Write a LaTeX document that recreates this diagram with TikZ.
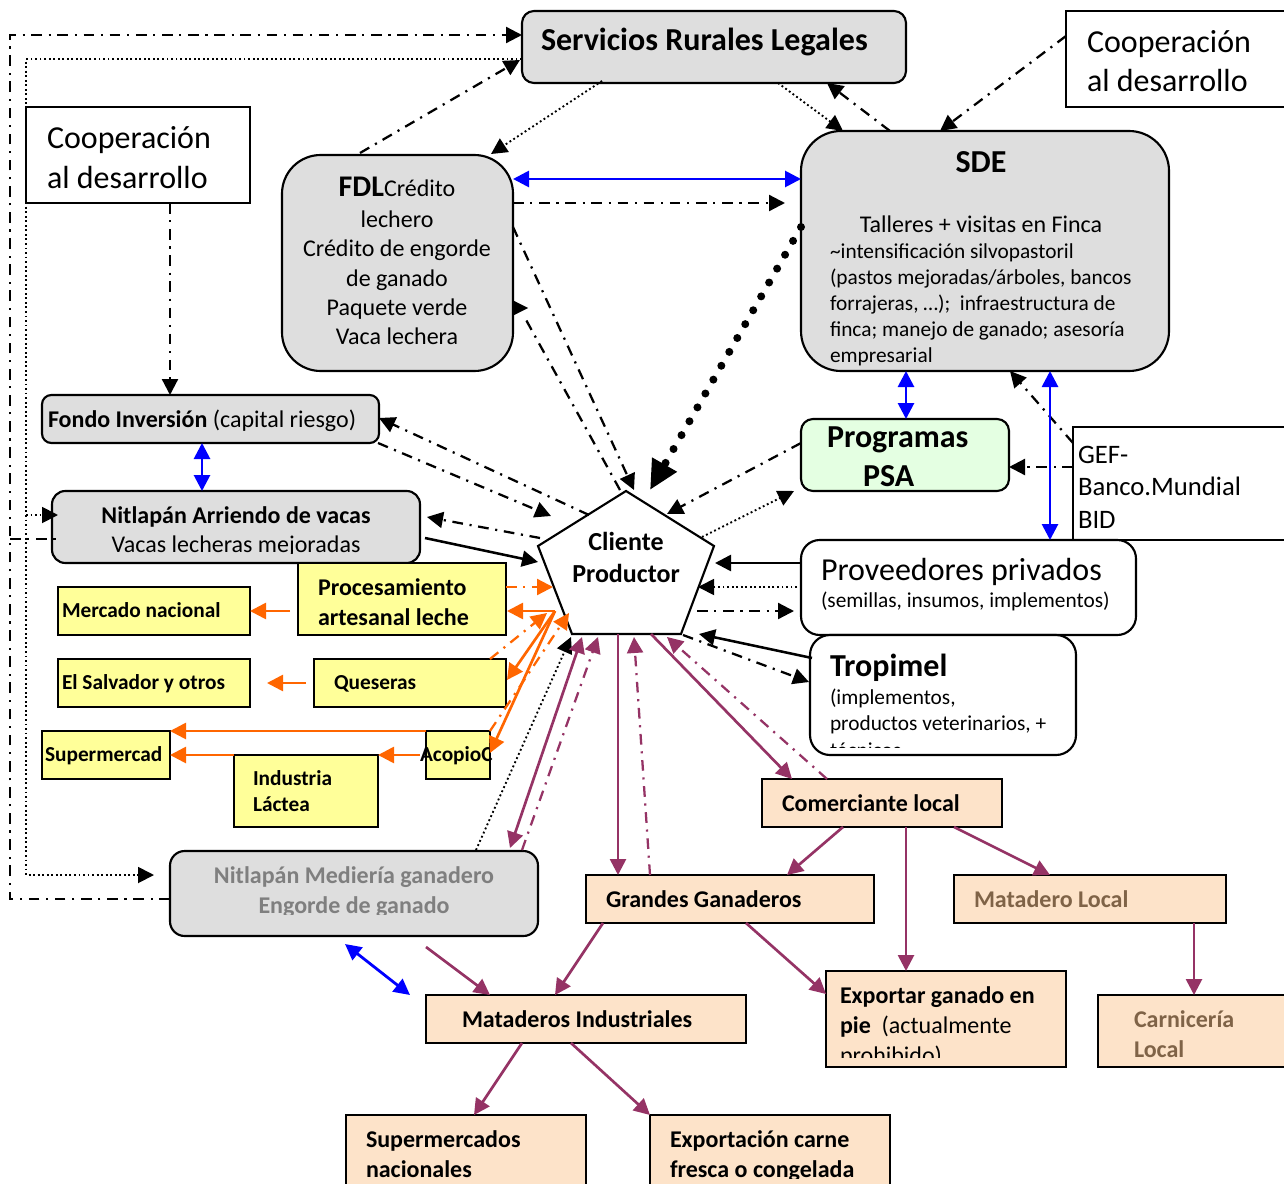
\documentclass[tikz,border=0pt]{standalone}
\usepackage{fontspec}
\setmainfont{Carlito}
\usetikzlibrary{arrows.meta,shapes.geometric}
\definecolor{gbox}{HTML}{DEDEDE}
\definecolor{gpsa}{HTML}{E4FFE2}
\definecolor{ybox}{HTML}{FFFF99}
\definecolor{pbox}{HTML}{FDE3C9}
\definecolor{oline}{HTML}{FF6600}
\definecolor{pline}{HTML}{953365}
\definecolor{bline}{HTML}{0000FF}
\definecolor{gtext}{HTML}{7F7F7F}
\definecolor{btext}{HTML}{7F6347}
\newcommand\bx[6]{\node[#1,minimum width={0.75pt*(#5-#3)},minimum height={0.75pt*(#6-#4)}] (#2) at ({(#3+#5)/2},{(#4+#6)/2}) {};}
\newcommand\cn[7]{\draw[#1] ([shift={(#3,#4)}]#2.north west) -- ([shift={(#6,#7)}]#5.north west);}
\newcommand\tx[5]{\node[lab,font=\fontsize{#1pt}{#1pt}\selectfont,#2] (#3) at #4 {#5};}
\newcommand\ctr[4]{\node[lab,anchor=base,font=\fontsize{#1pt}{#1pt}\selectfont] (#2) at #3 {#4};}
\tikzset{
 bfz/.style={font=\fontsize{#1pt}{#1pt}\selectfont\bfseries},
 bb/.style={draw=black,line width=1.6pt,inner sep=0pt,outer sep=0pt},
 plainbox/.style={bb,fill=white},
 greybox/.style={bb,fill=gbox,rounded corners=#1},
 whitebox/.style={bb,fill=white,rounded corners=#1},
 psabox/.style={bb,fill=gpsa,rounded corners=9pt},
 yelbox/.style={bb,fill=ybox},
 peachbox/.style={bb,fill=pbox},
 lab/.style={anchor=base west,inner sep=0pt,outer sep=0pt},
 dd/.style={line width=1.7pt,dash pattern=on 8pt off 5pt on 1.6pt off 5pt},
 dott/.style={line width=1.4pt,dash pattern=on 1.4pt off 2pt},
 sol/.style={line width=1.9pt},
 tip/.style={-{Triangle[length=12pt,width=12pt]}},
 ttip/.style={{Triangle[length=12pt,width=12pt]}-{Triangle[length=12pt,width=12pt]}},
 blk/.style={draw=black},
 org/.style={draw=oline,line width=2pt},
 pur/.style={draw=pline,line width=2pt},
 blu/.style={draw=bline,line width=2.1pt},
}
\begin{document}
\begin{tikzpicture}[x=0.75pt,y=-0.75pt]
\clip (0,0) rectangle (1284,1184);
\fill[white] (0,0) rectangle (1284,1184);
% ---------- boxes
\bx{greybox=9pt}{srl}{522}{11}{906}{83}
\bx{plainbox}{coopR}{1066}{11}{1300}{107}
\bx{plainbox}{coopL}{26}{107}{250}{203}
\bx{greybox=29pt}{fdl}{282}{155}{513}{371}
\bx{greybox=30pt}{sde}{801}{131}{1169}{371}
\bx{greybox=7pt}{fondo}{42}{395}{379}{443}
\bx{greybox=10pt}{arr}{52}{491}{420}{563}
\bx{psabox}{psa}{801}{419}{1009}{491}
\bx{plainbox}{gef}{1073}{427}{1300}{540}
\bx{whitebox=14pt}{prov}{801}{540}{1136}{635}
\bx{whitebox=15pt}{trop}{810}{635}{1076}{755}
\bx{yelbox}{proc}{298}{563}{506}{635}
\bx{yelbox}{merc}{58}{587}{250}{635}
\bx{yelbox}{sal}{58}{659}{250}{707}
\bx{yelbox}{ques}{314}{659}{506}{707}
\bx{yelbox}{sup}{42}{731}{170}{779}
\bx{yelbox}{aco}{426}{731}{490}{779}
\bx{yelbox}{ind}{234}{755}{378}{827}
\bx{greybox=11pt}{med}{170}{851}{538}{936}
\bx{peachbox}{com}{762}{779}{1002}{827}
\bx{peachbox}{gra}{586}{875}{874}{923}
\bx{peachbox}{mloc}{954}{875}{1226}{923}
\bx{peachbox}{exp}{826}{971}{1066}{1067}
\bx{peachbox}{car}{1098}{995}{1300}{1067}
\bx{peachbox}{mat}{426}{995}{746}{1043}
\bx{peachbox}{snac}{346}{1115}{586}{1200}
\bx{peachbox}{ecar}{650}{1115}{890}{1200}
% client pentagon
\node[inner sep=0pt,outer sep=0pt,minimum width=132pt,minimum height=108pt] (cli) at (626,563) {};
\draw[line width=1.6pt,fill=white,line join=miter] ([shift={(88,0)}]cli.north west) -- ([shift={(176,55)}]cli.north west) -- ([shift={(143,143)}]cli.north west) -- ([shift={(34,143)}]cli.north west) -- ([shift={(0,55)}]cli.north west) -- cycle;
% ---------- text
\tx{24}{bfz=24}{tsrl}{(541,51)}{Servicios Rurales Legales}
\tx{24}{}{tcr1}{(1087,53)}{Cooperación}
\tx{24}{}{tcr2}{(1087,92)}{al desarrollo}
\tx{24}{}{tcl1}{(47,149)}{Cooperación}
\tx{24}{}{tcl2}{(47,188)}{al desarrollo}
\ctr{18}{tf0}{(397,196)}{{\fontsize{22.5pt}{22.5pt}\selectfont\bfseries FDL}Crédito}
\ctr{18}{tf1}{(397,227)}{lechero}
\ctr{18}{tf2}{(397,256)}{Crédito de engorde}
\ctr{18}{tf3}{(397,286)}{de ganado}
\ctr{18}{tf4}{(397,315)}{Paquete verde}
\ctr{18}{tf5}{(397,344)}{Vaca lechera}
\node[lab,anchor=base,bfz=24] (ts0) at (981,172) {SDE};
\ctr{18}{ts1}{(981,232)}{Talleres + visitas en Finca}
\tx{16}{}{ts2}{(830,258)}{\textasciitilde intensificación silvopastoril}
\tx{16}{}{ts3}{(830,284)}{(pastos mejoradas/árboles, bancos}
\tx{16}{}{ts4}{(830,310)}{forrajeras, …);\ \ infraestructura de}
\tx{16}{}{ts5}{(830,336)}{finca; manejo de ganado; asesoría}
\tx{16}{}{ts6}{(830,362)}{empresarial}
\tx{18}{}{tfo}{(48,427)}{\textbf{Fondo Inversión} (capital riesgo)}
\node[lab,anchor=base,bfz=18] (ta1) at (236,523) {Nitlapán Arriendo de vacas};
\begin{scope}\clip (52,530) rectangle (420,553);
\ctr{18}{ta2}{(236,552)}{Vacas lecheras mejoradas}
\end{scope}
\tx{24}{bfz=24}{tp1}{(827,447)}{Programas}
\tx{24}{bfz=24}{tp2}{(863,486)}{PSA}
\tx{20}{}{tg1}{(1078,463)}{GEF-}
\tx{20}{}{tg2}{(1078,495)}{Banco.Mundial}
\tx{20}{}{tg3}{(1078,528)}{BID}
\tx{24}{}{tv1}{(821,580)}{Proveedores privados}
\tx{16}{}{tv2}{(821,607)}{(semillas, insumos, implementos)}
\tx{24}{bfz=24}{tt1}{(830,676)}{Tropimel}
\tx{16}{}{tt2}{(830,704)}{(implementos,}
\tx{16}{}{tt3}{(830,730)}{productos veterinarios, +}
\begin{scope}\clip (812,735) rectangle (1070,747);
\tx{16}{}{tt4}{(830,757)}{técnicos}
\end{scope}
\node[lab,anchor=base,bfz=19.5] (tc1) at (626,550) {Cliente};
\node[lab,anchor=base,bfz=19.5] (tc2) at (626,582) {Productor};
\tx{18}{bfz=18}{ty1}{(318,595)}{Procesamiento}
\tx{18}{bfz=18}{ty2}{(318,625)}{artesanal leche}
\tx{16}{bfz=16}{ty3}{(62,617)}{Mercado nacional}
\tx{16}{bfz=16}{ty4}{(62,689)}{El Salvador y otros}
\tx{16}{bfz=16}{ty5}{(334,689)}{Queseras}
\tx{16}{bfz=16}{ty6}{(45,761)}{Supermercad}
\begin{scope}\clip (410,735) rectangle (493,775);
\tx{16}{bfz=16}{ty7}{(420,761)}{AcopioC}
\end{scope}
\tx{16}{bfz=16}{ty8}{(253,785)}{Industria}
\tx{16}{bfz=16}{ty9}{(253,811)}{Láctea}
\node[lab,anchor=base,text=gtext,bfz=18] (tm1) at (354,883) {Nitlapán Mediería ganadero};
\begin{scope}\clip (175,890) rectangle (530,914);
\node[lab,anchor=base,text=gtext,bfz=18] (tm2) at (354,913) {Engorde de ganado};
\end{scope}
\tx{18}{bfz=18}{tb1}{(782,811)}{Comerciante local}
\tx{18}{bfz=18}{tb2}{(606,907)}{Grandes Ganaderos}
\tx{18}{text=btext,bfz=18}{tb3}{(974,907)}{Matadero Local}
\tx{18}{bfz=18}{tb4}{(840,1003)}{Exportar ganado en}
\tx{18}{}{tb5}{(840,1033)}{\textbf{pie}\ \ (actualmente}
\begin{scope}\clip (830,1040) rectangle (1060,1057);
\tx{18}{}{tb6}{(840,1063)}{prohibido)}
\end{scope}
\tx{18}{text=btext,bfz=18}{tb7}{(1134,1027)}{Carnicería}
\tx{18}{text=btext,bfz=18}{tb8}{(1134,1057)}{Local}
\tx{18}{bfz=18}{tb9}{(462,1027)}{Mataderos Industriales}
\tx{18}{bfz=18}{tb10}{(366,1147)}{Supermercados}
\tx{18}{bfz=18}{tb11}{(366,1177)}{nacionales}
\tx{18}{bfz=18}{tb12}{(670,1147)}{Exportación carne}
\begin{scope}\clip (660,1155) rectangle (885,1178);
\tx{18}{bfz=18}{tb13}{(670,1177)}{fresca o congelada}
\end{scope}
% ---------- free coordinates
\coordinate (lt1) at (10,899);
\coordinate (lt2) at (10,35);
\coordinate (ld1) at (26,59);
\coordinate (ld2) at (26,875);
\coordinate (ld3) at (26,515);
\coordinate (ld4) at (10,539);
\coordinate (fm1) at (426,947);
\coordinate (fb1) at (345,944);
\coordinate (fb2) at (410,995);
% ---------- black connectors
\draw[blk,dd,tip] ([shift={(0,48)}]med.north west) -- (lt1) -- (lt2) -- ([shift={(0,24)}]srl.north west);
\draw[blk,dott,tip] ([shift={(0,48)}]srl.north west) -- (ld1) -- (ld2) -- ([shift={(-16,24)}]med.north west);
\draw[blk,dott,tip] (ld3) -- ([shift={(6,24)}]arr.north west);
\draw[blk,dd] (ld4) -- ([shift={(8,48)}]arr.north west);
\cn{blk,dd,tip}{fdl}{78}{-2}{srl}{-2}{49}
\cn{blk,dott,tip}{srl}{80}{70}{fdl}{209}{-1}
\cn{blk,dott,tip}{srl}{256}{72}{sde}{42}{0}
\cn{blk,dd,tip}{sde}{89}{0}{srl}{305}{72}
\cn{blk,dd,tip}{coopR}{0}{25}{sde}{139}{0}
\cn{blk,dd,tip}{coopL}{144}{96}{fondo}{128}{0}
\cn{blu,ttip}{fdl}{231}{24}{sde}{0}{48}
\cn{blk,dd,tip}{fdl}{231}{48}{sde}{-16}{72}
\cn{blk,dd,tip}{fdl}{231}{72}{cli}{96}{-1}
\cn{blk,dd}{cli}{82}{-1}{fdl}{243}{163}
\cn{blk,tip}{fdl}{231}{153}{fdl}{246}{153}
\draw[line width=6pt,line cap=round,dash pattern=on 0pt off 12pt,-{Triangle[length=22pt,width=20pt]}] ([shift={(0,96)}]sde.north west) -- ([shift={(112,-1)}]cli.north west);
\cn{blk,dd,tip}{cli}{51}{24}{fondo}{337}{23}
\cn{blk,dd,tip}{fondo}{336}{48}{cli}{13}{25}
\cn{blk,dd,tip}{cli}{2}{47}{arr}{375}{26}
\cn{blk,sol,tip}{arr}{373}{47}{cli}{0}{71}
\cn{blk,dd,tip}{psa}{0}{24}{cli}{129}{23}
\cn{blk,dott,tip}{cli}{164}{46}{psa}{-7}{72}
\cn{blu,ttip}{sde}{105}{240}{psa}{105}{0}
\cn{blk,dd,tip}{gef}{0}{16}{sde}{209}{240}
\cn{blk,dd,tip}{gef}{0}{40}{psa}{208}{48}
\cn{blu,ttip}{sde}{249}{240}{prov}{249}{0}
\cn{blk,sol,tip}{prov}{0}{23}{cli}{177}{72}
\cn{blk,dott,tip}{prov}{-4}{47}{cli}{160}{96}
\cn{blk,dd,tip}{cli}{159}{120}{prov}{-7}{71}
\cn{blk,sol,tip}{trop}{2}{23}{cli}{161}{143}
\cn{blk,dd,tip}{cli}{145}{144}{trop}{-1}{47}
\cn{blu,ttip}{fondo}{160}{48}{arr}{150}{0}
\cn{blk,dott,tip}{med}{306}{-1}{cli}{33}{146}
% ---------- orange connectors
\cn{org,dd,tip}{proc}{208}{24}{cli}{15}{96}
\cn{org,tip}{cli}{17}{120}{proc}{209}{48}
\cn{org,tip}{cli}{17}{120}{ques}{193}{21}
\cn{org,tip}{cli}{17}{120}{aco}{64}{22}
\cn{org,dd,tip}{ques}{176}{0}{cli}{9}{122}
\cn{org,dd,tip}{aco}{64}{0}{cli}{31}{122}
\cn{org,tip}{proc}{-8}{48}{merc}{192}{24}
\cn{org,tip}{ques}{-8}{24}{sal}{209}{24}
\cn{org,tip}{aco}{0}{0}{sup}{128}{0}
\cn{org,tip}{aco}{-6}{24}{ind}{144}{0}
\cn{org,tip}{ind}{0}{0}{sup}{128}{24}
% ---------- purple connectors
\cn{pur,ttip}{cli}{44}{146}{med}{340}{-3}
\cn{pur,dd,tip}{med}{352}{-1}{cli}{60}{146}
\cn{pur,tip}{cli}{80}{143}{gra}{32}{0}
\cn{pur,dd,tip}{gra}{64}{0}{cli}{96}{146}
\cn{pur,tip}{cli}{113}{143}{com}{30}{0}
\cn{pur,dd,tip}{com}{65}{0}{cli}{129}{146}
\cn{pur,tip}{com}{81}{48}{gra}{201}{0}
\cn{pur,tip}{com}{144}{48}{exp}{80}{0}
\cn{pur,tip}{com}{192}{48}{mloc}{96}{0}
\cn{pur,tip}{mloc}{240}{48}{car}{96}{0}
\cn{pur,tip}{gra}{17}{48}{mat}{129}{0}
\cn{pur,tip}{gra}{160}{48}{exp}{0}{23}
\draw[pur,tip] (fm1) -- ([shift={(64,0)}]mat.north west);
\cn{pur,tip}{mat}{96}{48}{snac}{128}{0}
\cn{pur,tip}{mat}{145}{48}{ecar}{0}{0}
\draw[blu,ttip] (fb1) -- (fb2);
\end{tikzpicture}
\end{document}
